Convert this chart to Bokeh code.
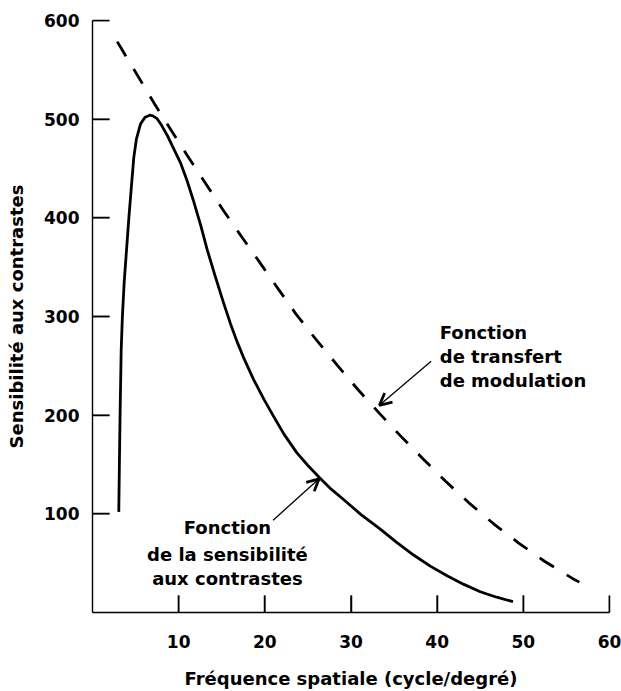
from bokeh.plotting import figure
from bokeh.models import FixedTicker, Arrow, OpenHead, Label
from bokeh.embed import file_html
from bokeh.resources import INLINE

# Contrast sensitivity function (solid curve)
freq_csf = [3.05, 3.12, 3.2, 3.33, 3.47, 3.68, 3.97, 4.22, 4.5, 4.79, 5.1, 5.57,
            6.1, 6.65, 7.0, 7.5, 8.0, 8.65, 9.43, 10.2, 11.0, 11.8, 12.6, 13.3,
            14.2, 15.2, 16.0, 16.8, 17.6, 18.7, 19.9, 21.0, 22.2, 23.7, 25.0,
            26.3, 27.7, 29.2, 31.2, 33.4, 35.3, 37.3, 39.2, 41.2, 43.1, 45.0,
            46.9, 48.8]
sens_csf = [102, 150, 200, 266, 300, 335, 370, 400, 430, 461, 480, 495,
            502, 504, 503.3, 500.5, 494, 484, 470, 456, 437, 415, 391, 368,
            342, 314, 293, 274, 257, 236, 216, 199, 181, 162, 149,
            137, 125, 114, 99, 84.5, 71, 58, 47, 37, 28.5, 21,
            15.5, 11]

# Modulation transfer function (dashed curve)
freq_mtf = [2.87, 7.3, 9.13, 11.17, 13.19, 15.23, 17.37, 19.49, 21.61, 23.6,
            26.0, 28.4, 30.8, 33.25, 35.8, 38.4, 40.95, 43.65, 46.55, 49.5,
            52.5, 55.65, 56.5]
sens_mtf = [578.6, 514, 488.7, 461, 434, 407, 380, 353.8, 327.2, 302.7,
            276, 250.7, 226, 202.3, 178.5, 155.4, 133.2, 111.4, 89.9, 70.1,
            51.7, 34.8, 30.8]

x_ticks = [10, 20, 30, 40, 50, 60]
y_ticks = [100, 200, 300, 400, 500, 600]

x_title = "Fréquence spatiale (cycle/degré)"
y_title = "Sensibilité aux contrastes"
mtf_label = ["Fonction", "de transfert", "de modulation"]
csf_label = ["Fonction", "de la sensibilité", "aux contrastes"]

FONT = "DejaVu Sans"

p = figure(width=621, height=691, x_range=(0, 60), y_range=(0, 600),
           output_backend="svg", toolbar_location=None,
           min_border_left=92, min_border_right=12,
           min_border_top=20, min_border_bottom=77)
p.outline_line_color = None
p.grid.visible = False
p.background_fill_color = "white"
p.border_fill_color = "white"

p.line(freq_csf, sens_csf, line_width=2.8, line_color="black", line_join="round")
p.line(freq_mtf, sens_mtf, line_width=2.8, line_color="black", line_dash="17 15")

# inward tick marks as thin filled bars (about 17 px long, 1.5 px wide)
p.vbar(x=x_ticks, width=0.175, bottom=0, top=17.2,
       fill_color="black", line_color=None)
p.hbar(y=y_ticks, height=1.5, left=0, right=1.97,
       fill_color="black", line_color=None)

for ax, ticks in ((p.xaxis[0], x_ticks), (p.yaxis[0], y_ticks)):
    ax.ticker = FixedTicker(ticks=ticks)
    ax.major_tick_in = 17
    ax.major_tick_out = 0
    ax.major_tick_line_width = 1.5
    ax.major_tick_line_color = "black"
    ax.minor_tick_in = 0
    ax.minor_tick_out = 0
    ax.axis_line_width = 1.4
    ax.axis_line_color = "black"
    ax.major_label_text_font = FONT
    ax.major_label_text_font_style = "bold"
    ax.major_label_text_font_size = "17px"
    ax.major_label_text_color = "black"
    ax.axis_label_text_font = FONT
    ax.axis_label_text_font_style = "bold"
    ax.axis_label_text_font_size = "18px"
    ax.axis_label_text_color = "black"

p.xaxis.axis_label = x_title
p.yaxis.axis_label = y_title
p.xaxis.major_label_standoff = 22
p.xaxis.axis_label_standoff = 17
p.yaxis.major_label_standoff = 13
p.yaxis.axis_label_standoff = 14

mtf_y = [283.5, 259.4, 235.2]
for txt, yy in zip(mtf_label, mtf_y):
    p.add_layout(Label(x=40.3, y=yy, text=txt, text_font=FONT, text_font_style="bold",
                       text_font_size="18px", text_color="black",
                       text_align="left", text_baseline="alphabetic"))

csf_y = [86.0, 59.1, 34.6]
for txt, yy in zip(csf_label, csf_y):
    p.add_layout(Label(x=15.66, y=yy, text=txt, text_font=FONT, text_font_style="bold",
                       text_font_size="18px", text_color="black",
                       text_align="center", text_baseline="alphabetic"))

p.add_layout(Arrow(end=OpenHead(size=12, line_width=2.8, line_color="black"),
                   x_start=39.3, y_start=254.7, x_end=33.3, y_end=210,
                   line_width=1.3, line_color="black"))
p.add_layout(Arrow(end=OpenHead(size=12, line_width=2.8, line_color="black"),
                   x_start=20.96, y_start=93.6, x_end=26.3, y_end=135.5,
                   line_width=1.3, line_color="black"))

open("out.html", "w").write(file_html(p, INLINE))
